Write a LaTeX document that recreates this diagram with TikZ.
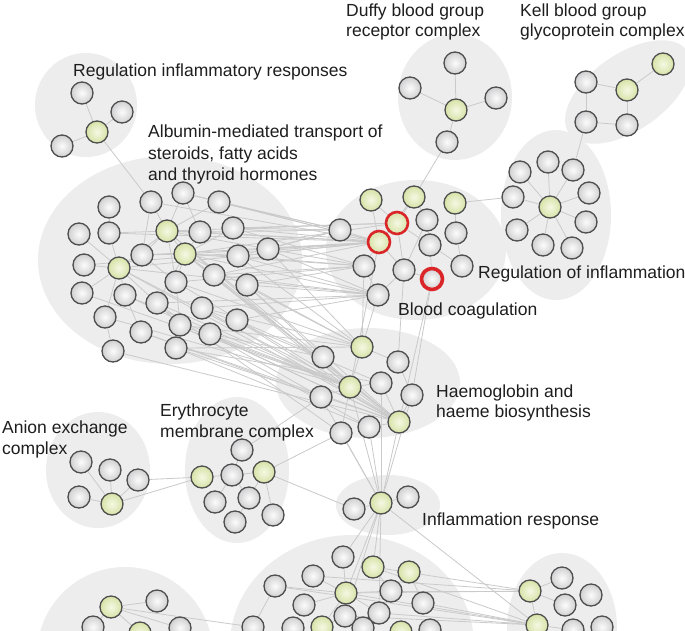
\documentclass[tikz,border=0pt]{standalone}
\usepackage{fontspec}
\setmainfont{Liberation Sans}
\pgfdeclarelayer{bg}
\pgfdeclarelayer{edges}
\pgfsetlayers{bg,edges,main}
\definecolor{blobc}{RGB}{237,237,237}
\definecolor{ndraw}{RGB}{78,78,78}
\definecolor{edgec}{RGB}{202,202,202}
\definecolor{gin}{RGB}{252,252,252}
\definecolor{gout}{RGB}{208,208,210}
\definecolor{yin}{RGB}{246,248,228}
\definecolor{yout}{RGB}{214,226,166}
\definecolor{redc}{RGB}{218,38,40}
\definecolor{txtc}{RGB}{30,30,30}
\begin{document}
\begin{tikzpicture}[x=1pt,y=-1pt,
  gn/.style={circle, minimum size=22pt, inner sep=0pt, draw=ndraw, line width=1.3pt, inner color=gin, outer color=gout},
  yn/.style={gn, inner color=yin, outer color=yout},
  ryn/.style={yn, draw=redc, line width=2.6pt},
  rwn/.style={gn, draw=redc, line width=3.6pt, minimum size=21pt},
  edge/.style={draw=edgec, line width=0.8pt},
  blob/.style={fill=blobc},
  lbl/.style={font=\fontsize{17.5}{21.5}\selectfont, text=txtc, anchor=base west, inner sep=0pt}]
\useasboundingbox (0,0) rectangle (685,630);

% ---------- background blobs ----------
\begin{pgfonlayer}{bg}
\fill[white] (0,0) rectangle (685,630);
\fill[blob] (86,105) ellipse [x radius=51, y radius=52];
\fill[blob] (170,260) ellipse [x radius=132, y radius=104];
\fill[blob] (416,250) ellipse [x radius=90, y radius=70];
\fill[blob] (455,97) ellipse [x radius=57, y radius=63];
\fill[blob, rotate around={35:(628,92)}] (628,92) ellipse [x radius=72, y radius=38];
\fill[blob] (556,215) ellipse [x radius=55, y radius=85];
\fill[blob] (368,383) ellipse [x radius=92, y radius=55];
\fill[blob] (98,470) ellipse [x radius=52, y radius=58];
\fill[blob] (237,470) ellipse [x radius=52, y radius=73];
\fill[blob] (388,505) ellipse [x radius=52, y radius=30];
\fill[blob] (125,655) ellipse [x radius=88, y radius=88];
\fill[blob] (352,645) ellipse [x radius=122, y radius=110];
\fill[blob] (562,628) ellipse [x radius=55, y radius=75];
\end{pgfonlayer}

% ---------- nodes ----------
% regulation inflammatory responses
\foreach \n/\x/\y in {r1/82/93, r2/122/112, r4/62/146} \node[gn] (\n) at (\x,\y) {};
\node[yn] (r3) at (97,132) {};
% albumin
\foreach \n/\x/\y in {a1/109/207, a2/151/202, a3/183/193, a4/219/202, a5/79/234, a6/109/233,
  a8/200/232, a9/233/228, a10/268/249, a11/142/255, a13/238/256, a14/84/265,
  a16/176/282, a17/214/275, a18/247/285, a19/82/293, a20/125/295, a21/157/303, a22/202/308,
  a23/105/317, a24/180/325, a25/237/320, a26/141/332, a27/210/334, a28/113/351, a29/176/348}
  \node[gn] (\n) at (\x,\y) {};
\foreach \n/\x/\y in {a7/167/231, a12/185/254, a15/119/268} \node[yn] (\n) at (\x,\y) {};
% blood coagulation
\foreach \n/\x/\y in {b5/427/220, b6/340/230, b8/430/245, b9/456/233, b10/364/266, b11/404/270, b13/462/266, b14/378/295}
  \node[gn] (\n) at (\x,\y) {};
\foreach \n/\x/\y in {b1/371/200, b2/414/197, b3/455/203} \node[yn] (\n) at (\x,\y) {};
\node[ryn] (b4) at (397,223) {};
\node[ryn] (b7) at (379,242) {};
\node[rwn] (b12) at (432,279) {};
% duffy
\foreach \n/\x/\y in {d1/455/63, d2/410/88, d4/496/98, d5/447/142} \node[gn] (\n) at (\x,\y) {};
\node[yn] (d3) at (456,110) {};
% kell
\foreach \n/\x/\y in {k1/586/82, k4/586/122, k5/627/125} \node[gn] (\n) at (\x,\y) {};
\foreach \n/\x/\y in {k2/627/90, k3/663/64} \node[yn] (\n) at (\x,\y) {};
% regulation of inflammation
\foreach \n/\x/\y in {g1/548/162, g2/520/172, g3/573/170, g4/589/193, g5/513/197,
  g7/586/222, g8/517/230, g9/543/245, g10/572/248} \node[gn] (\n) at (\x,\y) {};
\node[yn] (g6) at (550,207) {};
% haemoglobin
\foreach \n/\x/\y in {h2/323/357, h3/398/362, h5/381/383, h6/321/397, h7/412/395, h9/369/427, h10/341/433}
  \node[gn] (\n) at (\x,\y) {};
\foreach \n/\x/\y in {h1/362/347, h4/350/387, h8/399/422} \node[yn] (\n) at (\x,\y) {};
% erythrocyte
\foreach \n/\x/\y in {e1/242/450, e3/232/475, e5/215/502, e6/249/498, e7/235/522, e8/273/515}
  \node[gn] (\n) at (\x,\y) {};
\foreach \n/\x/\y in {e2/202/477, e4/264/472} \node[yn] (\n) at (\x,\y) {};
% anion exchange
\foreach \n/\x/\y in {n1/81/462, n2/110/470, n3/138/480, n4/79/497} \node[gn] (\n) at (\x,\y) {};
\node[yn] (n5) at (112,504) {};
% inflammation response
\node[gn] (ir1) at (354,509) {};
\node[yn] (ir2) at (381,503) {};
\node[gn] (ir3) at (408,497) {};
% bottom left
\foreach \n/\x/\y in {bl2/157/601, bl3/93/627, bl5/180/628} \node[gn] (\n) at (\x,\y) {};
\foreach \n/\x/\y in {bl1/111/607, bl4/140/633} \node[yn] (\n) at (\x,\y) {};
% bottom middle
\foreach \n/\x/\y in {bm1/343/557, bm2/313/576, bm3/275/586, bm4/304/605, bm6/253/627, bm7/293/628,
  bm11/391/591, bm12/423/603, bm13/345/616, bm14/379/613, bm15/363/628, bm17/430/630}
  \node[gn] (\n) at (\x,\y) {};
\foreach \n/\x/\y in {bm5/346/593, bm8/322/627, bm9/373/567, bm10/409/572, bm16/401/632}
  \node[yn] (\n) at (\x,\y) {};
% bottom right
\foreach \n/\x/\y in {br2/562/578, br3/591/595, br4/565/605, br6/573/630, br7/602/627}
  \node[gn] (\n) at (\x,\y) {};
\foreach \n/\x/\y in {br1/530/591, br5/537/625} \node[yn] (\n) at (\x,\y) {};

% ---------- edges ----------
\begin{pgfonlayer}{edges}
\foreach \u/\v in {
  r3/r1, r3/r2, r3/r4, r3/a2,
  a7/a2, a7/a3, a7/a6, a7/a8, a7/a11, a7/a12, a7/a15, a7/a16, a7/a4,
  a12/a8, a12/a13, a12/a16, a12/a17, a12/a11, a12/a21, a12/a9,
  a15/a5, a15/a6, a15/a14, a15/a19, a15/a20, a15/a23, a15/a11, a15/a21,
  a1/a6, a23/a28, a20/a26, a16/a24, a21/a24, a11/a16, a3/a8, a2/a11,
  a2/b7, a3/b7, a7/b7, a8/b7, a9/b7, a10/b7, a12/b7, a13/b7, a15/b7, a17/b7, a4/b7, a11/b7, a6/b7, a14/b7,
  a9/b6, a10/b6, a4/b6, a8/b6, a13/b6, a3/b6,
  a7/b4, a9/b4, a12/b4,
  a12/b10, a13/b10, a16/b10, a18/b10, a7/b10, a17/b10, a9/b10,
  a12/b14, a15/b14, a17/b14, a18/b14, a22/b14, a25/b14, a10/b14, a21/b14, a13/b14,
  a12/h1, a18/h1, a22/h1, a13/h1, a24/h1, a29/h1, a16/h1, a10/h1,
  a18/h2, a25/h2, a27/h2,
  a7/h4, a12/h4, a15/h4, a16/h4, a21/h4, a24/h4, a27/h4, a20/h4, a19/h4, a23/h4,
  a22/h5, a29/h5,
  a12/h8, a15/h8, a17/h8, a22/h8, a25/h8, a27/h8, a29/h8, a7/h8, a18/h8, a20/h8, a26/h8, a28/h8,
  a24/h9, a29/h9, a27/h6, a26/h6, a21/h10,
  b1/b4, b1/b7, b2/b4, b2/b5, b3/b9, b4/b7, b4/b8, b4/b11, b5/b8, b5/b11,
  b7/b10, b7/b11, b8/b12, b8/b13, b9/b13, b10/b14, b11/b12, b6/b7, b2/b7, b11/b14,
  b14/h1, b10/h1, b12/h7, b11/h3, b12/h8, b7/h4,
  b3/g5, d5/b2,
  d3/d1, d3/d2, d3/d4, d3/d5,
  k1/k2, k2/k3, k1/k4, k4/k5, k2/k5, k4/g3,
  g6/g1, g6/g2, g6/g3, g6/g4, g6/g5, g6/g7, g6/g8, g6/g9, g6/g10,
  h1/h4, h1/h3, h4/h5, h4/h8, h5/h8, h3/h7, h7/h8, h9/h8, h2/h4, h6/h4, h10/h4,
  h8/ir2, h9/ir2, h10/ir2, h4/ir2, h6/ir2, h5/ir2, h7/ir2,
  ir2/ir1, ir2/ir3, ir2/bm1, ir2/bm5, ir2/bm9, ir2/bm14, ir2/br5, ir2/bm13,
  e2/e3, e3/e4, e1/e3, e3/e6, e3/e5, e4/e6, e4/e8, e6/e7, e1/h6, e4/h10, e4/ir1,
  n5/n1, n5/n2, n5/n3, n5/n4, n3/e2, n5/e2,
  bl1/bl2, bl1/bl3, bl1/bl4, bl1/bl5, bl1/bm6,
  bm5/bm1, bm5/bm2, bm5/bm3, bm5/bm4, bm5/bm8, bm5/bm11, bm5/bm14, bm3/bm6,
  bm9/bm11, bm10/bm12, bm8/bm13, bm5/br1, bm9/br1, bm11/br1, bm12/br5, bm5/br5,
  bm14/br5, bm13/br5, bm2/br1, bm9/br5, bm3/br5,
  br1/br2, br1/br4, br1/br5, br5/br6}
  \draw[edge] (\u) -- (\v);
\end{pgfonlayer}

% ---------- labels ----------
\node[lbl] (t1) at (73,76) {Regulation inflammatory responses};
\node[lbl] (t2a) at (148,137.5) {Albumin-mediated transport of};
\node[lbl] (t2b) at (148,159) {steroids, fatty acids};
\node[lbl] (t2c) at (148,180.5) {and thyroid hormones};
\node[lbl] (t3a) at (346,16) {Duffy blood group};
\node[lbl] (t3b) at (346,36.5) {receptor complex};
\node[lbl] (t4a) at (520,16) {Kell blood group};
\node[lbl] (t4b) at (520,36.5) {glycoprotein complex};
\node[lbl] (t5) at (478,278) {Regulation of inflammation};
\node[lbl] (t6) at (398,315) {Blood coagulation};
\node[lbl] (t7a) at (436,397) {Haemoglobin and};
\node[lbl] (t7b) at (436,417.5) {haeme biosynthesis};
\node[lbl] (t8) at (422,525) {Inflammation response};
\node[lbl] (t9a) at (160,416) {Erythrocyte};
\node[lbl] (t9b) at (160,437) {membrane complex};
\node[lbl] (t10a) at (2,433) {Anion exchange};
\node[lbl] (t10b) at (2,454) {complex};
\end{tikzpicture}
\end{document}
